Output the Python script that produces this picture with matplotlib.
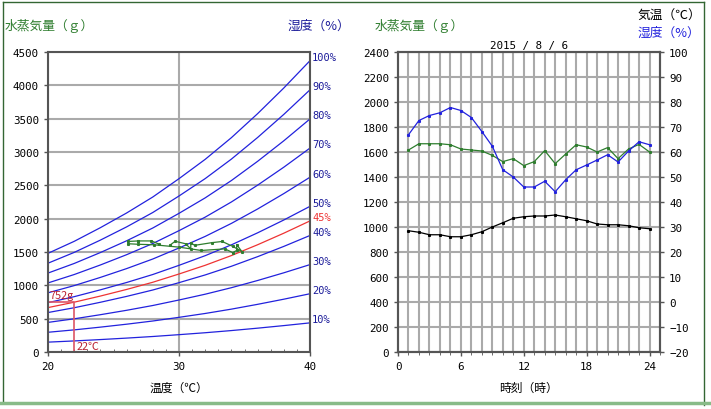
import numpy as np
import matplotlib.pyplot as plt
from matplotlib.lines import Line2D

plt.rcParams['font.family'] = ['Noto Sans CJK JP', 'DejaVu Sans']

# --- left chart: saturation curve (g in the room) ---
temp_grid = [20, 22, 24, 26, 28, 30, 32, 34, 36, 38, 40]
sat_grams = [1480, 1660, 1865, 2085, 2325, 2600, 2890, 3215, 3575, 3960, 4370]
rh_levels = [10, 20, 30, 40, 50, 60, 70, 80, 90, 100]
rh_mark = 45
mark_temp = 22
mark_grams = 752

# --- right chart: hourly readings for 2015/8/6 ---
hours = list(range(1, 25))
vapor = [1616, 1666, 1666, 1666, 1658, 1624, 1616, 1608, 1573, 1523, 1547, 1491,
         1523, 1611, 1507, 1584, 1658, 1640, 1600, 1635, 1547, 1624, 1661, 1600]
humidity = [66.9, 72.6, 74.6, 75.7, 77.8, 76.6, 73.8, 68.2, 62.3, 52.9, 50.0, 46.0,
            46.0, 48.3, 44.1, 48.9, 52.9, 54.8, 56.8, 58.9, 56.0, 60.4, 64.1, 62.9]
air_temp = [28.5, 27.9, 26.9, 26.9, 26.1, 26.1, 26.9, 28.1, 30.0, 31.7, 33.5, 34.1,
            34.4, 34.4, 34.8, 34.1, 33.3, 32.5, 31.2, 30.9, 30.9, 30.5, 29.7, 29.3]

BLUE = '#2222dd'
NAVY = '#1a1a99'
GREEN = '#2e7d2e'
RED = '#ee3333'
GRID = '#aaaaaa'
SPINE = '#555555'
MONO = 'DejaVu Sans Mono'

fig = plt.figure(figsize=(7.11, 4.10), dpi=100)
fig.patch.set_facecolor('white')

# frame lines around the picture
fig.add_artist(Line2D([3/711, 3/711], [1 - 3/410, 1 - 404/410], transform=fig.transFigure, color='#336633', lw=1))
fig.add_artist(Line2D([3/711, 704/711], [1 - 3/410, 1 - 3/410], transform=fig.transFigure, color='#336633', lw=1))
fig.add_artist(Line2D([704/711, 704/711], [1 - 3/410, 1 - 406/410], transform=fig.transFigure, color='#336633', lw=1))
fig.add_artist(Line2D([0, 1], [1 - 404/410, 1 - 404/410], transform=fig.transFigure, color='#88bb88', lw=2.5))


def style_axes(ax):
    for s in ax.spines.values():
        s.set_color(SPINE)
        s.set_linewidth(1.5)
    ax.tick_params(labelsize=7.8, length=3, color=SPINE, width=1)
    for lab in ax.get_xticklabels() + ax.get_yticklabels():
        lab.set_family(MONO)


# ---------------- left chart ----------------
axl = fig.add_axes([48/711, 57/410, 262/711, 300/410])
axl.set_xlim(20, 40)
axl.set_ylim(0, 4500)
axl.set_xticks([20, 30, 40])
axl.set_xticks(range(20, 41), minor=True)
axl.set_yticks(range(0, 4501, 500))
style_axes(axl)
axl.tick_params(axis='x', which='minor', direction='in', length=2, color=SPINE)
axl.grid(True, color=GRID, lw=1.5)
axl.set_axisbelow(True)

sat = np.array(sat_grams)
for rh in rh_levels:
    y = sat * rh / 100
    axl.plot(temp_grid, y, color=BLUE, lw=0.9)
    axl.text(40.15, y[-1] + 55, f'{rh}%', color=NAVY, fontsize=7.5, va='center', ha='left',
             family=MONO, clip_on=False)
y45 = sat * rh_mark / 100
axl.plot(temp_grid, y45, color=RED, lw=0.9)
axl.text(40.15, y45[-1] + 60, f'{rh_mark}%', color=RED, fontsize=7.5, va='center', ha='left',
         family=MONO, clip_on=False)

axl.plot([20, mark_temp, mark_temp], [mark_grams, mark_grams, 0], color='#dd5566', lw=1.2)
axl.text(20.1, mark_grams + 30, f'{mark_grams}g', color='#bb2233', fontsize=7.8, va='bottom')
axl.text(mark_temp + 0.15, 20, f'{mark_temp}℃', color='#bb2233', fontsize=7.8, va='bottom')

axl.plot(air_temp, vapor, color=GREEN, lw=0.9, marker='s', ms=1.2)

axl.set_xlabel('温度（℃）', fontsize=8.5, labelpad=7)
fig.text(5/711, 1 - 26/410, '水蒸気量（ｇ）', color=GREEN, fontsize=9.2, va='center')
fig.text(288/711, 1 - 26/410, '湿度（%）', color=NAVY, fontsize=9.2, va='center')

# ---------------- right chart ----------------
axr = fig.add_axes([398/711, 57/410, 262/711, 300/410])
axr.set_xlim(0, 25)
axr.set_ylim(0, 2400)
axr.set_xticks([0, 6, 12, 18, 24])
axr.set_xticks(range(0, 26), minor=True)
axr.set_yticks(range(0, 2401, 200))
style_axes(axr)
axr.tick_params(axis='x', which='minor', length=2, color=SPINE)
for h in range(1, 25):
    axr.axvline(h, color=GRID, lw=1.5, zorder=0)
axr.yaxis.grid(True, color=GRID, lw=1.5)
axr.set_axisbelow(True)
axr.plot(hours, vapor, color=GREEN, lw=0.9, marker='s', ms=1.2, zorder=3)
axr.set_xlabel('時刻（時）', fontsize=8.5, labelpad=7)

ax2 = axr.twinx()
ax2.set_ylim(-20, 100)
ax2.set_yticks(range(-20, 101, 10))
style_axes(ax2)
ax2.plot(hours, humidity, color=BLUE, lw=0.9, marker='s', ms=1.2)
ax2.plot(hours, air_temp, color='black', lw=0.9, marker='s', ms=1.2)

fig.text(375/711, 1 - 26/410, '水蒸気量（ｇ）', color=GREEN, fontsize=9.2, va='center')
fig.text(638/711, 1 - 16/410, '気温（℃）', color='black', fontsize=9.2, va='center')
fig.text(638/711, 1 - 33/410, '湿度（%）', color=BLUE, fontsize=9.2, va='center')
axr.set_title('2015 / 8 / 6', fontsize=7.8, pad=3, family=MONO)

fig.savefig('out.png', dpi=100)
